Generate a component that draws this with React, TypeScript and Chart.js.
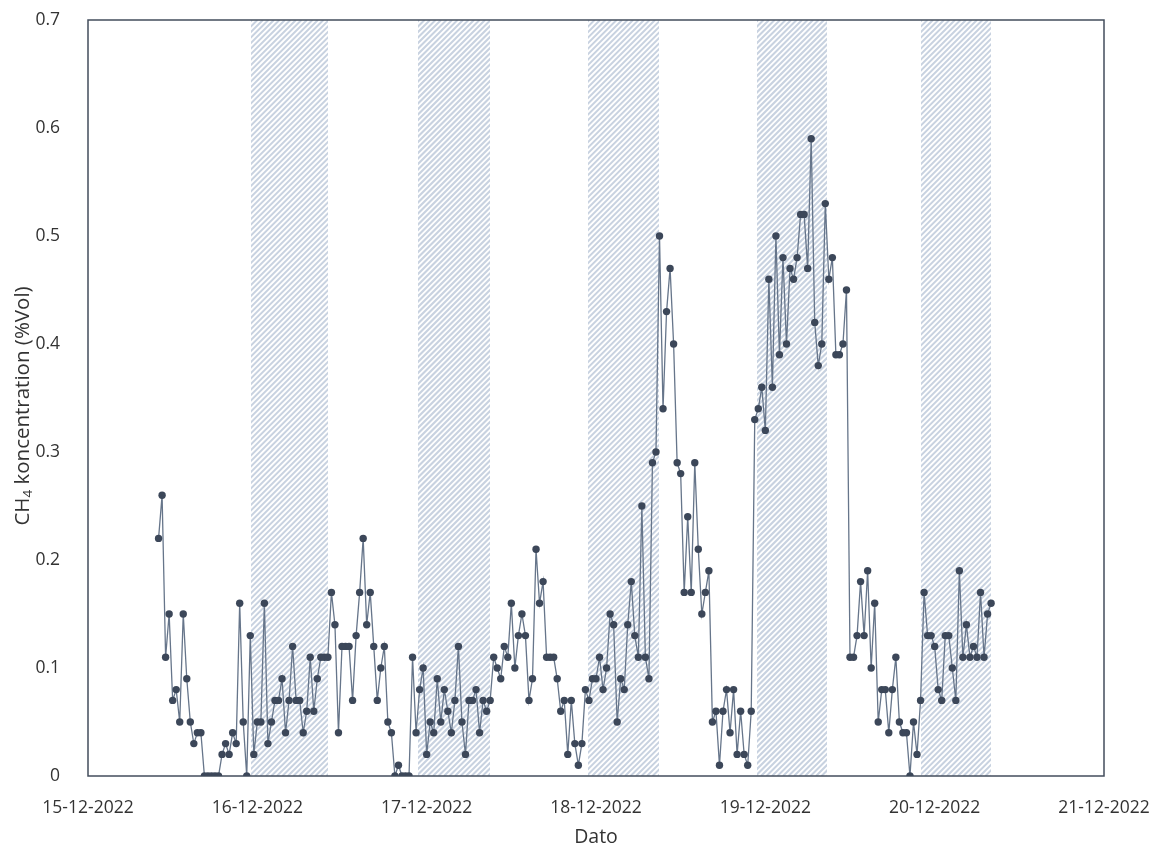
import React, { useEffect, useRef } from "react";
import { Chart, registerables } from "chart.js";

Chart.register(...registerables);

// ---- Data ----
const xTickLabels = [
  "15-12-2022",
  "16-12-2022",
  "17-12-2022",
  "18-12-2022",
  "19-12-2022",
  "20-12-2022",
  "21-12-2022",
];
const yTickLabels = ["0", "0.1", "0.2", "0.3", "0.4", "0.5", "0.6", "0.7"];

// first measurement 15-12-2022 10:00, one measurement every 30 minutes (x in days since 15-12-2022 00:00)
const firstSampleDay = 10 / 24;
const sampleStepDay = 0.5 / 24;

const ch4Values = [
  0.22, 0.26, 0.11, 0.15, 0.07, 0.08, 0.05, 0.15, 0.09, 0.05, 0.03, 0.04, 0.04,
  0, 0, 0, 0, 0,
  0.02, 0.03, 0.02, 0.04, 0.03, 0.16, 0.05, 0, 0.13, 0.02, 0.05, 0.05, 0.16, 0.03, 0.05, 0.07, 0.07, 0.09, 0.04,
  0.07, 0.12, 0.07, 0.07, 0.04, 0.06, 0.11, 0.06, 0.09, 0.11, 0.11, 0.11, 0.17, 0.14, 0.04, 0.12, 0.12, 0.12, 0.07, 0.13,
  0.17, 0.22, 0.14, 0.17, 0.12, 0.07, 0.1, 0.12, 0.05, 0.04, 0, 0.01, 0, 0, 0, 0.11, 0.04, 0.08, 0.1, 0.02,
  0.05, 0.04, 0.09, 0.05, 0.08, 0.06, 0.04, 0.07, 0.12, 0.05, 0.02, 0.07, 0.07, 0.08, 0.04, 0.07, 0.06, 0.07, 0.11, 0.1,
  0.09, 0.12, 0.11, 0.16, 0.1, 0.13, 0.15, 0.13, 0.07, 0.09, 0.21, 0.16, 0.18, 0.11, 0.11, 0.11, 0.09, 0.06, 0.07,
  0.02, 0.07, 0.03, 0.01, 0.03, 0.08, 0.07, 0.09, 0.09, 0.11, 0.08, 0.1, 0.15, 0.14, 0.05, 0.09, 0.08, 0.14, 0.18, 0.13,
  0.11, 0.25, 0.11, 0.09, 0.29, 0.3, 0.5, 0.34, 0.43, 0.47, 0.4, 0.29, 0.28, 0.17, 0.24, 0.17, 0.29, 0.21, 0.15, 0.17,
  0.19, 0.05, 0.06, 0.01, 0.06, 0.08, 0.04, 0.08, 0.02, 0.06, 0.02, 0.01, 0.06,
  0.33, 0.34, 0.36, 0.32, 0.46, 0.36, 0.5, 0.39, 0.48, 0.4, 0.47, 0.46, 0.48, 0.52, 0.52, 0.47, 0.59, 0.42, 0.38, 0.4,
  0.53, 0.46, 0.48, 0.39, 0.39, 0.4, 0.45,
  0.11, 0.11, 0.13, 0.18, 0.13, 0.19, 0.1, 0.16, 0.05, 0.08, 0.08, 0.04, 0.08, 0.11, 0.05, 0.04, 0.04, 0, 0.05, 0.02,
  0.07, 0.17, 0.13, 0.13, 0.12, 0.08, 0.07, 0.13, 0.13, 0.1, 0.07, 0.19, 0.11, 0.14, 0.11, 0.12, 0.11, 0.17, 0.11, 0.15,
  0.16,
];

// hatched night periods (days since 15-12-2022 00:00)
const shadeStarts = [0.962, 1.949, 2.953, 3.951, 4.919];
const shadeEnds = [1.418, 2.374, 3.372, 4.364, 5.333];

const xTitle = "Dato";
const yTitleMain = "CH";
const yTitleSub = "4";
const yTitleRest = " koncentration (%Vol)";

const FONT = "'Open Sans', 'Noto Sans', sans-serif";
const TEXT_COLOR = "#333333";

const decorPlugin = {
  id: "decor",
  beforeDatasetsDraw(chart: any) {
    const { ctx, chartArea: a, scales } = chart;
    const x = scales.x;
    ctx.save();
    for (let k = 0; k < shadeStarts.length; k++) {
      const x0 = x.getPixelForValue(shadeStarts[k]);
      const x1 = x.getPixelForValue(shadeEnds[k]);
      ctx.save();
      ctx.beginPath();
      ctx.rect(x0, a.top, x1 - x0, a.bottom - a.top);
      ctx.clip();
      ctx.strokeStyle = "#c8d2e0";
      ctx.lineWidth = 2;
      const h = a.bottom - a.top;
      ctx.beginPath();
      for (let s = x0 - h - 10; s < x1 + 10; s += 5.5) {
        ctx.moveTo(s, a.bottom);
        ctx.lineTo(s + h, a.top);
      }
      ctx.stroke();
      ctx.restore();
    }
    ctx.strokeStyle = "#434d5c";
    ctx.lineWidth = 1.5;
    ctx.strokeRect(a.left, a.top, a.right - a.left, a.bottom - a.top);
    ctx.restore();
  },
  afterDraw(chart: any) {
    const { ctx, chartArea: a } = chart;
    ctx.save();
    ctx.fillStyle = TEXT_COLOR;
    // x title
    ctx.font = `19.5px ${FONT}`;
    ctx.textAlign = "center";
    ctx.textBaseline = "middle";
    ctx.fillText(xTitle, (a.left + a.right) / 2, 837);
    // y title (rotated, with subscript)
    const cy = 406;
    const cx = 23;
    ctx.translate(cx, cy);
    ctx.rotate(-Math.PI / 2);
    ctx.textAlign = "left";
    ctx.textBaseline = "middle";
    const mainFont = `20.5px ${FONT}`;
    const subFont = `13.5px ${FONT}`;
    ctx.font = mainFont;
    const w1 = ctx.measureText(yTitleMain).width;
    const w3 = ctx.measureText(yTitleRest).width;
    ctx.font = subFont;
    const w2 = ctx.measureText(yTitleSub).width;
    const total = w1 + w2 + w3;
    let px = -total / 2;
    ctx.font = mainFont;
    ctx.fillText(yTitleMain, px, 0);
    px += w1;
    ctx.font = subFont;
    ctx.fillText(yTitleSub, px, 5);
    px += w2;
    ctx.font = mainFont;
    ctx.fillText(yTitleRest, px, 0);
    ctx.restore();
  },
};

export default function App() {
  const canvasRef = useRef<HTMLCanvasElement | null>(null);

  useEffect(() => {
    document.body.style.margin = "0";
    document.body.style.overflow = "hidden";
    const canvas = canvasRef.current;
    if (!canvas) return;
    const points = ch4Values.map((v, i) => ({ x: firstSampleDay + i * sampleStepDay, y: v }));
    const chart = new Chart(canvas, {
      type: "line",
      data: {
        datasets: [
          {
            label: "CH4",
            data: points,
            borderColor: "#66758a",
            borderWidth: 1.3,
            pointRadius: 3.7,
            pointBackgroundColor: "#3c4759",
            pointBorderWidth: 0,
            pointHoverRadius: 3.7,
            tension: 0,
            fill: false,
          },
        ],
      },
      options: {
        animation: false,
        responsive: false,
        devicePixelRatio: 1,
        events: [],
        layout: { padding: { top: 20, right: 59, left: 0, bottom: 0 } },
        plugins: {
          legend: { display: false },
          tooltip: { enabled: false },
          title: { display: false },
        },
        scales: {
          x: {
            type: "linear",
            min: 0,
            max: 6,
            grid: { display: false },
            border: { display: false },
            afterFit: (scale: any) => {
              scale.height = 78;
              scale.paddingLeft = 0;
              scale.paddingRight = 0;
            },
            ticks: {
              stepSize: 1,
              padding: 14,
              maxRotation: 0,
              autoSkip: false,
              color: TEXT_COLOR,
              font: { family: FONT, size: 17.5 },
              callback: (value: any) => xTickLabels[Math.round(Number(value))] ?? "",
            },
          },
          y: {
            type: "linear",
            min: 0,
            max: 0.7,
            grid: { display: false },
            border: { display: false },
            afterFit: (scale: any) => {
              scale.width = 88;
              scale.paddingTop = 0;
              scale.paddingBottom = 0;
            },
            ticks: {
              stepSize: 0.1,
              padding: 20,
              color: TEXT_COLOR,
              font: { family: FONT, size: 17.5 },
              callback: (value: any) => yTickLabels[Math.round(Number(value) * 10)] ?? "",
            },
          },
        },
      },
      plugins: [decorPlugin],
    });
    return () => chart.destroy();
  }, []);

  return (
    <div style={{ width: 1163, height: 854 }}>
      <canvas ref={canvasRef} width={1163} height={854} style={{ display: "block", width: 1163, height: 854 }} />
    </div>
  );
}
